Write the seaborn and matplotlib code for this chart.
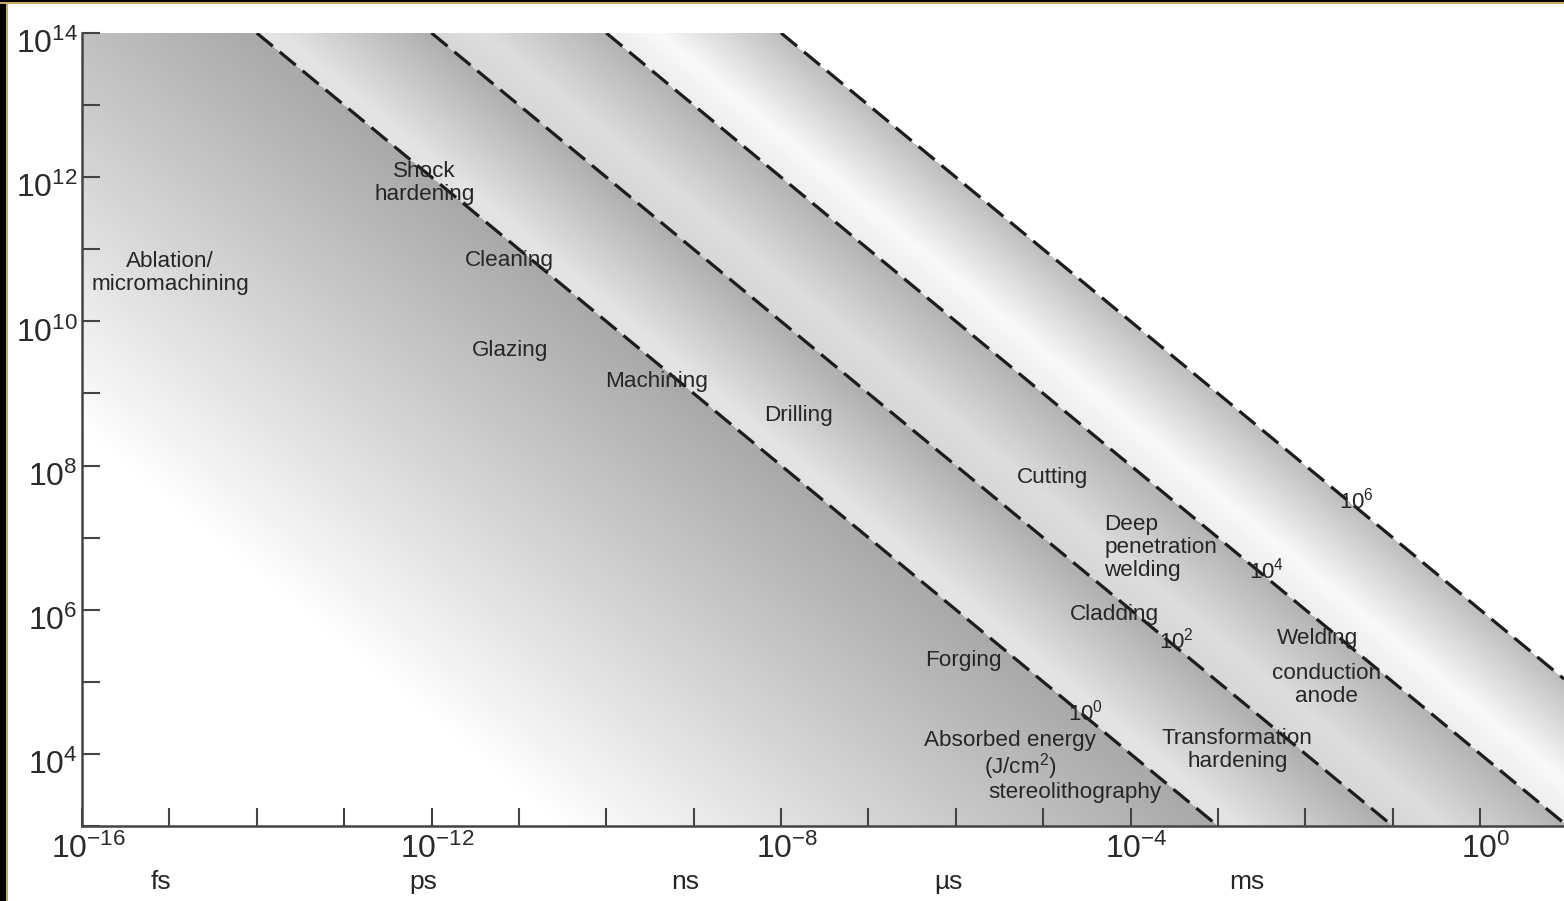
import numpy as np
import pandas as pd
import matplotlib
matplotlib.use("Agg")
import matplotlib.pyplot as plt
import seaborn as sns
from matplotlib.patches import Rectangle
from matplotlib.transforms import ScaledTranslation

sns.set_theme(style="white")
plt.rcParams["font.family"] = ["Liberation Sans", "DejaVu Sans"]
plt.rcParams["mathtext.fontset"] = "custom"
plt.rcParams["mathtext.rm"] = "Liberation Sans"
plt.rcParams["mathtext.it"] = "Liberation Sans:italic"
plt.rcParams["mathtext.bf"] = "Liberation Sans:bold"

# ---------------- data ----------------
fluence_exp = [0, 2, 4, 6]                     # absorbed energy lines, J/cm^2 (log10)
fluence_labels = ["$10^{0}$", "$10^{2}$", "$10^{4}$", "$10^{6}$"]
fluence_label_t = [-4.52, -3.48, -2.44, -1.41]  # log10 time of label
fluence_label_I = [4.58, 5.57, 6.54, 7.52]      # log10 intensity of label

time_lim_exp = [-16, 0.96]
intensity_lim_exp = [3, 14]

x_tick_exp = list(range(-16, 1))
x_label_exp = [-16, -12, -8, -4, 0]
y_tick_exp = list(range(3, 15))
y_label_exp = [4, 6, 8, 10, 12, 14]

unit_labels = ["fs", "ps", "ns", "\u00b5s", "ms"]
unit_t = [-15.1, -12.1, -9.1, -6.08, -2.67]

process_labels = ["Ablation/\nmicromachining", "Shock\nhardening", "Cleaning", "Glazing",
                  "Machining", "Drilling", "Cutting", "Deep\npenetration\nwelding",
                  "Cladding", "Forging", "Welding", "conduction\nanode",
                  "Transformation\nhardening", "Absorbed energy", "(J/cm$^{2}$)",
                  "stereolithography"]
process_t = [-14.99, -12.08, -11.11, -11.10, -9.43, -7.80, -4.89, -4.30,
             -4.19, -5.91, -1.86, -1.76, -2.78, -5.38, -5.26, -4.64]
process_I = [10.67, 11.92, 10.84, 9.59, 9.16, 8.70, 7.83, 6.86,
             5.93, 5.29, 5.60, 4.96, 4.06, 4.19, 3.82, 3.47]
process_ha = ["center"] * 7 + ["left"] + ["center"] * 8

# ---------------- figure ----------------
W, H = 1564, 901
fig = plt.figure(figsize=(W / 100, H / 100), dpi=100)
fig.patch.set_facecolor("white")
pos = [82 / W, (H - 826) / H, (W - 82) / W, (826 - 33) / H]

# background shading (in decade units)
ax_bg = fig.add_axes(pos, zorder=0)
nx, ny = 1482, 793
tl = np.linspace(time_lim_exp[0], time_lim_exp[1], nx)
il = np.linspace(intensity_lim_exp[0], intensity_lim_exp[1], ny)
T, I = np.meshgrid(tl, il)
U = T + I
G = np.ones_like(U)
m0 = U < fluence_exp[0]
G[m0] = 0.66 + (1 - 0.66) * np.clip(-U[m0] / 7.6, 0, 1)
# per band shading profile across the band: (fraction, grey)
band_profiles = [
    ([0.0, 0.10, 1.0], [0.88, 0.895, 0.68]),
    ([0.0, 0.30, 1.0], [0.84, 0.865, 0.70]),
    ([0.0, 0.30, 1.0], [0.93, 0.975, 0.74]),
]
for k in range(3):
    lo, hi = fluence_exp[k], fluence_exp[k + 1]
    m = (U >= lo) & (U < hi)
    f = (U[m] - lo) / (hi - lo)
    G[m] = np.interp(f, band_profiles[k][0], band_profiles[k][1])
ax_bg.imshow(G, cmap="gray", vmin=0, vmax=1, origin="lower",
             extent=[time_lim_exp[0], time_lim_exp[1], intensity_lim_exp[0], intensity_lim_exp[1]],
             aspect="auto", interpolation="bilinear")
ax_bg.set_xlim(time_lim_exp)
ax_bg.set_ylim(intensity_lim_exp)
ax_bg.axis("off")

# main axes
ax = fig.add_axes(pos, zorder=1)
ax.set_facecolor("none")
ax.set_xscale("log")
ax.set_yscale("log")

rows = []
for e in fluence_exp:
    F = 10.0 ** e
    t0 = F / 10.0 ** intensity_lim_exp[1]
    t1 = 10.0 ** time_lim_exp[1]
    for t in (t0, t1):
        rows.append({"t": t, "I": F / t, "F": e})
df = pd.DataFrame(rows)
sns.lineplot(data=df, x="t", y="I", units="F", estimator=None, color="#1c1c1c",
             lw=2.3, ax=ax, legend=False, sort=False)
for ln in ax.lines:
    ln.set_linestyle((0, (6.5, 2.8)))
    ln.set_solid_capstyle("butt")

ax.set_xlim(10.0 ** time_lim_exp[0], 10.0 ** time_lim_exp[1])
ax.set_ylim(10.0 ** intensity_lim_exp[0], 10.0 ** intensity_lim_exp[1])

ax.set_xticks([10.0 ** k for k in x_tick_exp])
ax.set_xticklabels(["$10^{%d}$" % k if k in x_label_exp else "" for k in x_tick_exp])
ax.set_yticks([10.0 ** k for k in y_tick_exp])
ax.set_yticklabels(["$10^{%d}$" % k if k in y_label_exp else "" for k in y_tick_exp])
ax.minorticks_off()
ax.tick_params(axis="both", which="major", direction="in", length=13, width=1.5,
               color="#444444", labelsize=23, labelcolor="#2a2a2a",
               bottom=True, left=True, top=False, right=False)
ax.tick_params(axis="x", pad=3)
ax.tick_params(axis="y", pad=3)
for lab in ax.get_xticklabels():
    lab.set_transform(lab.get_transform() + ScaledTranslation(6 / 100, -4 / 100, fig.dpi_scale_trans))
for lab in ax.get_yticklabels():
    lab.set_transform(lab.get_transform() + ScaledTranslation(0, -8 / 100, fig.dpi_scale_trans))
for s in ["top", "right"]:
    ax.spines[s].set_visible(False)
for s in ["left", "bottom"]:
    ax.spines[s].set_color("#444444")
    ax.spines[s].set_linewidth(1.8)
ax.set_xlabel("")
ax.set_ylabel("")
ax.grid(False)

txt_color = "#262626"
for s, t, i, ha in zip(process_labels, process_t, process_I, process_ha):
    ax.text(10.0 ** t, 10.0 ** i, s, ha=ha, va="center", fontsize=16.2,
            color=txt_color, linespacing=1.12, multialignment=ha)
for s, t, i in zip(fluence_labels, fluence_label_t, fluence_label_I):
    ax.text(10.0 ** t, 10.0 ** i, s, ha="center", va="center", fontsize=16, color=txt_color)

trans = ax.get_xaxis_transform()
for s, t in zip(unit_labels, unit_t):
    ax.text(10.0 ** t, -0.071, s, transform=trans, ha="center", va="center",
            fontsize=19, color=txt_color, clip_on=False)

# frame strips (left & top)
fig.patches.append(Rectangle((0, 0), 6 / W, 1, transform=fig.transFigure,
                             facecolor="black", edgecolor="none", zorder=5))
fig.patches.append(Rectangle((6 / W, 0), 1.5 / W, 1, transform=fig.transFigure,
                             facecolor="#c8ab6a", edgecolor="none", zorder=5))
fig.patches.append(Rectangle((0, 1 - 2.5 / H), 1, 2.5 / H, transform=fig.transFigure,
                             facecolor="black", edgecolor="none", zorder=5))
fig.patches.append(Rectangle((0, 1 - 4 / H), 1, 1.5 / H, transform=fig.transFigure,
                             facecolor="#c8ab6a", edgecolor="none", zorder=5))

fig.savefig("out.png", dpi=100)
